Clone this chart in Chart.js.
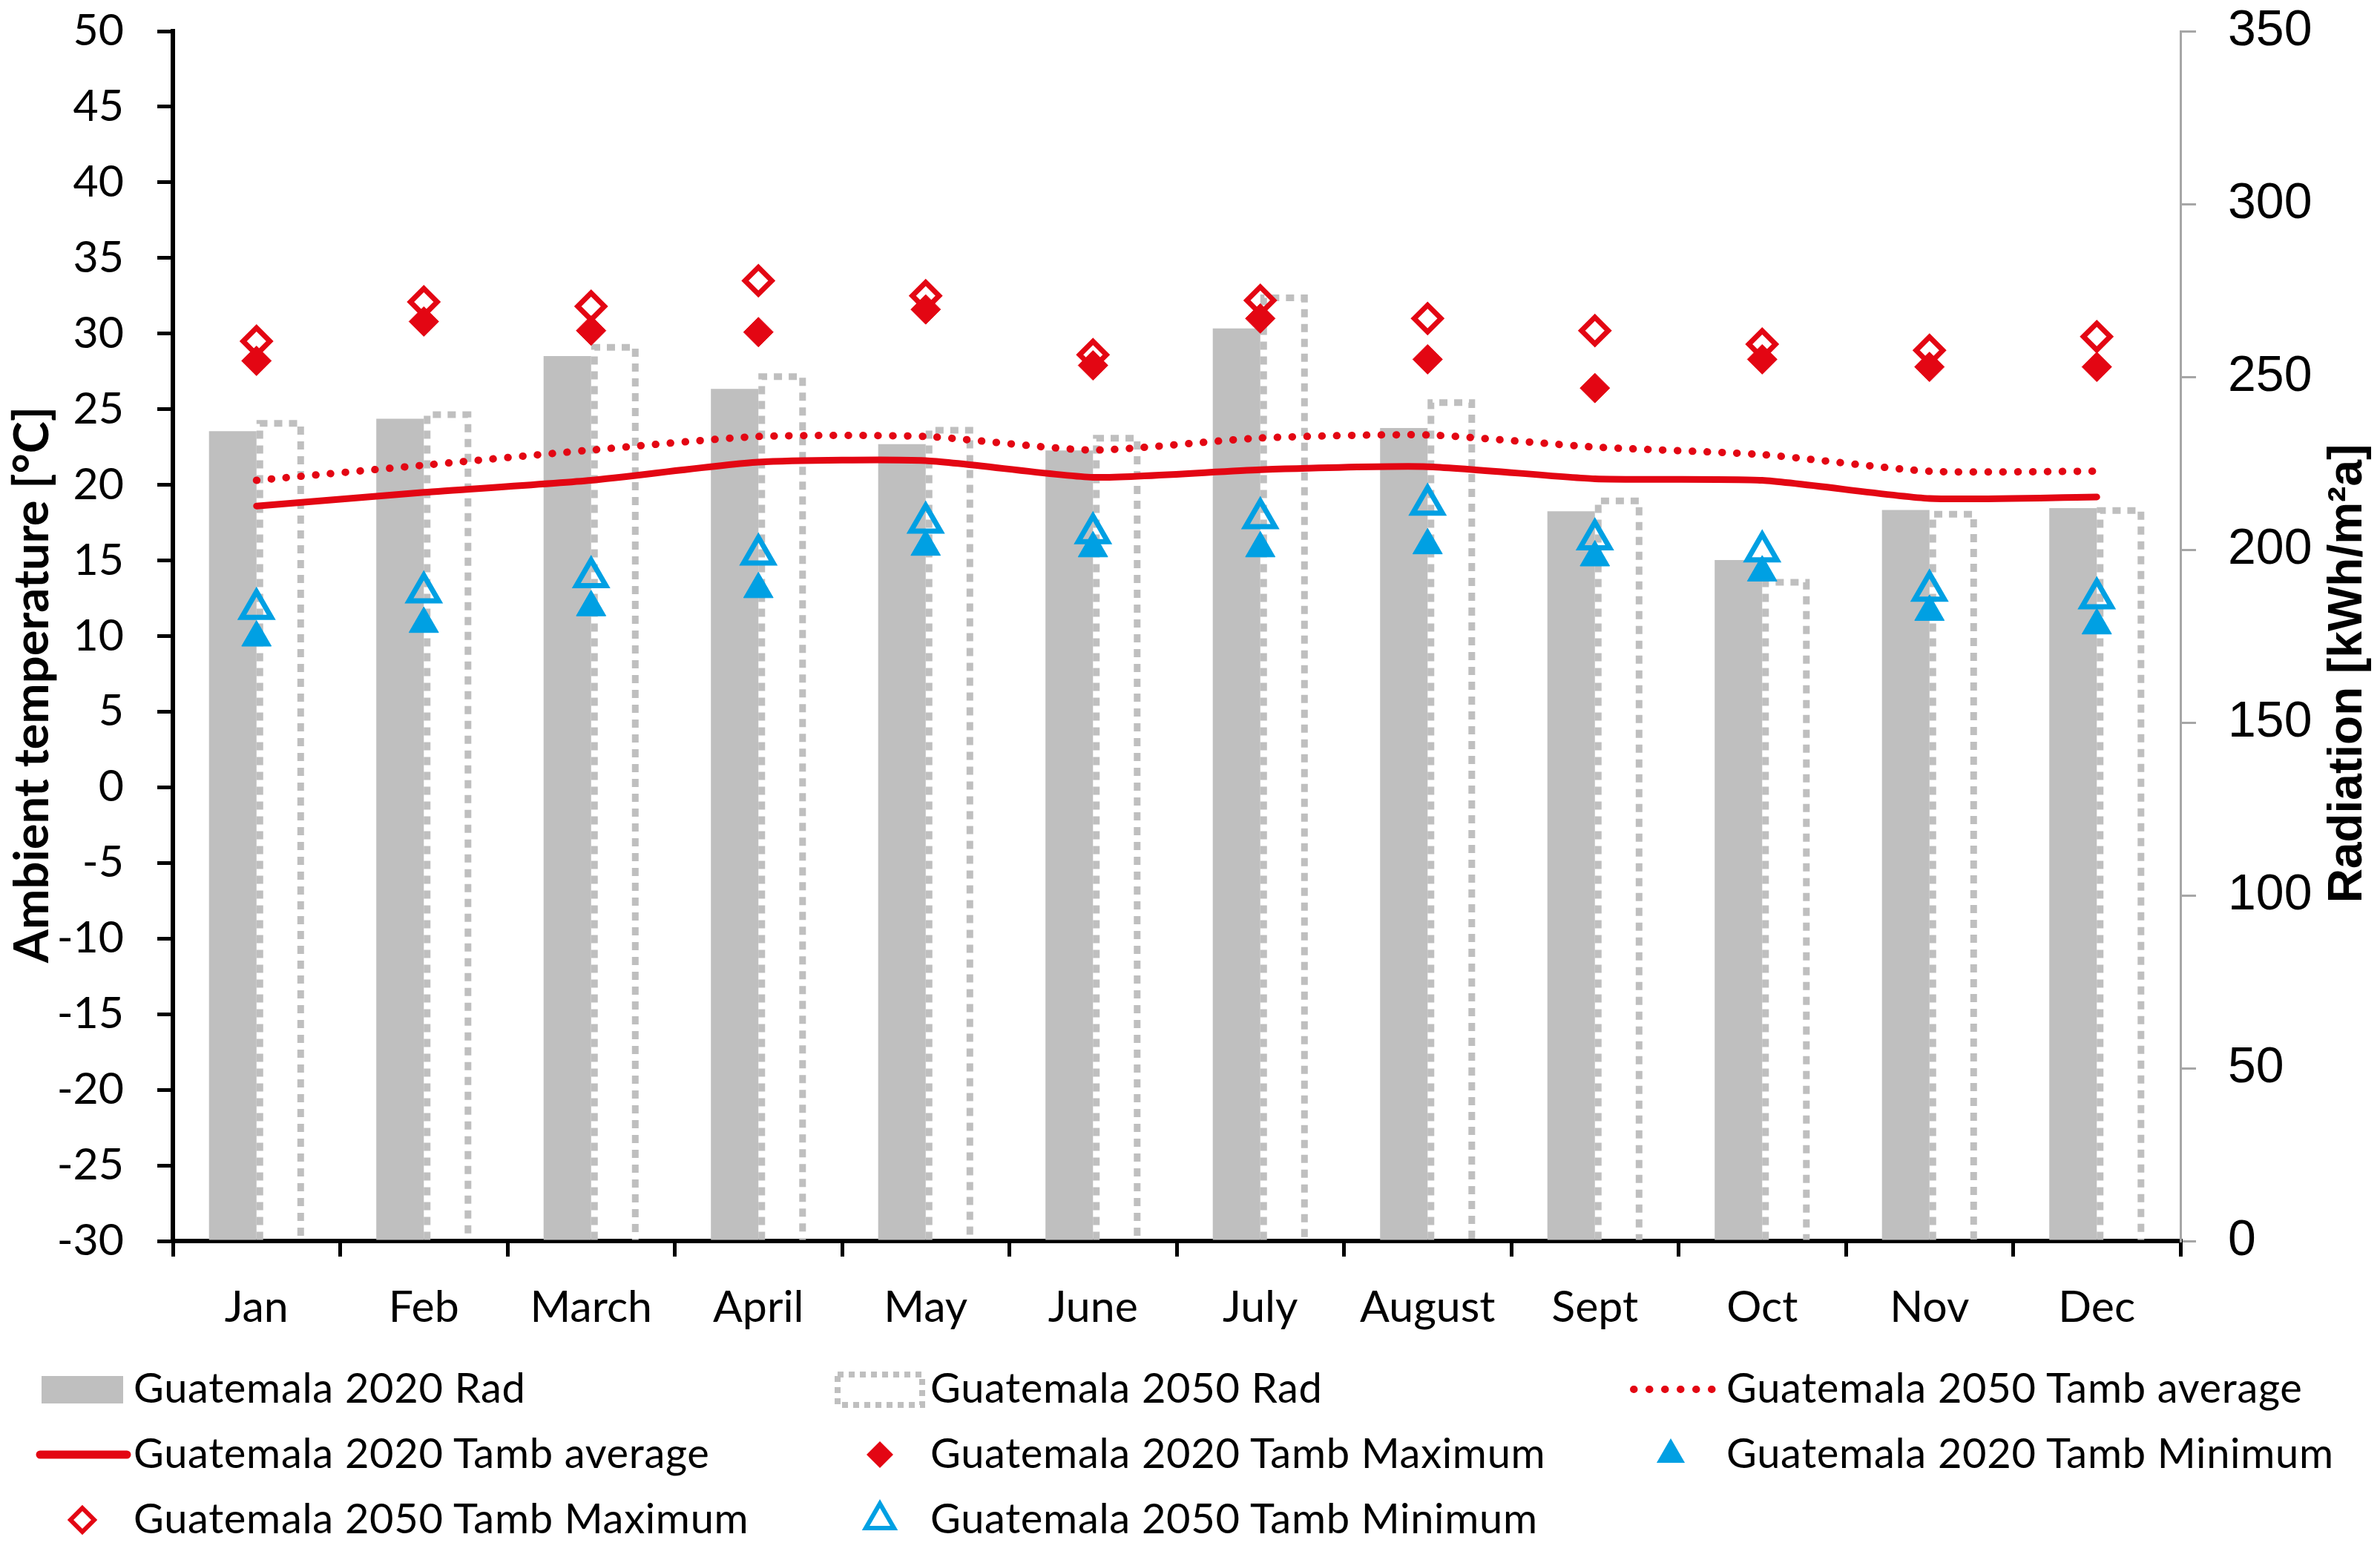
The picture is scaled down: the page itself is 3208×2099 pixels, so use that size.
<!DOCTYPE html>
<html>
<head>
<meta charset="utf-8">
<script src="https://cdn.jsdelivr.net/npm/chart.js@4.4.0/dist/chart.umd.min.js"></script>
<style>
  html, body { margin: 0; padding: 0; background: #fff; }
  #wrap { position: relative; width: 3208px; height: 2099px; overflow: hidden; }
  #chart { position: absolute; left: 0; top: 0; }
  #legendSvg { position: absolute; left: 0; top: 0; pointer-events: none; }
  .leg-text { position: absolute; height: 60px; line-height: 60px; font-family: Lato, sans-serif; font-size: 56px; letter-spacing: 0.7px; color: #000; white-space: nowrap; }
</style>
</head>
<body>
<div id="wrap">
  <canvas id="chart" width="3208" height="2099"></canvas>
  <svg id="legendSvg" width="3208" height="2099" xmlns="http://www.w3.org/2000/svg"></svg>
  <div id="legend"></div>
</div>
<script>
// data
const months = ['Jan', 'Feb', 'March', 'April', 'May', 'June', 'July', 'August', 'Sept', 'Oct', 'Nov', 'Dec'];

// radiation [kWh/m2a], right axis
const rad2020 = [234.3, 237.9, 256.0, 246.5, 230.5, 228.7, 264.0, 235.2, 211.1, 197.0, 211.5, 212.0];
const rad2050 = [237.5, 240.0, 259.5, 251.0, 235.5, 233.2, 273.8, 243.5, 215.1, 191.5, 211.2, 212.3];

// ambient temperature [°C], left axis
const avg2050 = [20.3, 21.3, 22.3, 23.2, 23.2, 22.3, 23.1, 23.3, 22.5, 22.0, 20.9, 20.9];
const avg2020 = [18.6, 19.5, 20.3, 21.5, 21.6, 20.5, 21.0, 21.2, 20.4, 20.3, 19.1, 19.2];
const max2020 = [28.2, 30.8, 30.2, 30.1, 31.6, 27.9, 31.0, 28.3, 26.4, 28.3, 27.8, 27.8];
const min2020 = [9.9, 10.8, 11.9, 13.1, 15.9, 15.8, 15.8, 16.0, 15.2, 14.2, 11.6, 10.7];
const max2050 = [29.5, 32.1, 31.8, 33.5, 32.5, 28.6, 32.2, 31.0, 30.2, 29.3, 28.9, 29.8];
const min2050 = [11.8, 12.9, 13.9, 15.4, 17.5, 16.8, 17.8, 18.7, 16.4, 15.6, 13.0, 12.5];

const tempTicks = { min: -30, max: 50, step: 5 };
const radTicks = { min: 0, max: 350, step: 50 };

const leftTitle = 'Ambient temperature [°C]';
const rightTitle = 'Radiation [kWh/m²a]';

const RED = 'rgb(227,6,19)';
const BLUE = 'rgb(0,160,227)';
const GREY = 'rgb(191,191,191)';
const AXIS_GREY = 'rgb(166,166,166)';

// the 2050 radiation bars are dashed outlines, drawn right after the solid 2020 bars
const dashedBars = {
    id: 'dashedBars',
    afterDatasetDraw(chart, args) {
        if (args.index !== 0) return;
        const c = chart.ctx;
        const lw = 9;
        c.save();
        c.strokeStyle = GREY;
        c.lineWidth = lw;
        c.setLineDash([11, 9]);
        chart.getDatasetMeta(1).data.forEach(bar => {
            const p = bar.getProps(['x', 'y', 'base', 'width'], true);
            const l = p.x - p.width / 2 + lw / 2;
            const r = p.x + p.width / 2 - lw / 2;
            const t = p.y + lw / 2;
            c.beginPath();
            c.moveTo(l, p.base);
            c.lineTo(l, t);
            c.lineTo(r, t);
            c.lineTo(r, p.base);
            c.stroke();
        });
        c.restore();
    }
};

// both axis titles read bottom to top
const axisTitles = {
    id: 'axisTitles',
    afterDraw(chart) {
        const c = chart.ctx;
        c.save();
        c.fillStyle = '#000';
        c.textAlign = 'center';
        c.textBaseline = 'alphabetic';
        c.translate(65, 923);
        c.rotate(-Math.PI / 2);
        c.font = 'bold 65px Lato';
        c.fillText(leftTitle, 0, 0);
        c.restore();

        c.save();
        c.fillStyle = '#000';
        c.textAlign = 'center';
        c.textBaseline = 'alphabetic';
        c.translate(3183, 908);
        c.rotate(-Math.PI / 2);
        c.font = 'bold 64px "Liberation Sans"';
        c.fillText(rightTitle, 0, 0);
        c.restore();
    }
};

function markerSet(label, data, style, radius, filled, color) {
    return {
        type: 'line',
        label: label,
        data: data,
        yAxisID: 'y',
        showLine: false,
        pointStyle: style,
        pointRadius: radius,
        pointHoverRadius: radius,
        pointBackgroundColor: filled ? color : 'rgba(0,0,0,0)',
        pointBorderColor: color,
        pointBorderWidth: filled ? 1 : 7,
        order: 1
    };
}

// fixed axis sizes so the plot area lands where it is in the picture
function fixVertical(width) {
    return function (s) {
        s.width = width;
        s.paddingTop = 0;
        s.paddingBottom = 0;
    };
}

function drawChart() {
    const ctx = document.getElementById('chart').getContext('2d');
    const chart = new Chart(ctx, {
        data: {
            labels: months,
            datasets: [
                { type: 'bar', label: 'Guatemala 2020 Rad', data: rad2020, yAxisID: 'y1',
                  backgroundColor: GREY, borderWidth: 0, order: 10 },
                { type: 'bar', label: 'Guatemala 2050 Rad', data: rad2050, yAxisID: 'y1',
                  backgroundColor: 'rgba(0,0,0,0)', borderWidth: 0, order: 11 },
                { type: 'line', label: 'Guatemala 2050 Tamb average', data: avg2050, yAxisID: 'y',
                  borderColor: RED, borderWidth: 10, borderDash: [0.5, 19.5], borderCapStyle: 'round',
                  pointRadius: 0, tension: 0.2, order: 5 },
                { type: 'line', label: 'Guatemala 2020 Tamb average', data: avg2020, yAxisID: 'y',
                  borderColor: RED, borderWidth: 9, borderCapStyle: 'round',
                  pointRadius: 0, tension: 0.2, order: 5 },
                markerSet('Guatemala 2020 Tamb Maximum', max2020, 'rectRot', 20, true, RED),
                markerSet('Guatemala 2020 Tamb Minimum', min2020, 'triangle', 23, true, BLUE),
                markerSet('Guatemala 2050 Tamb Maximum', max2050, 'rectRot', 18, false, RED),
                markerSet('Guatemala 2050 Tamb Minimum', min2050, 'triangle', 23, false, BLUE)
            ]
        },
        options: {
            responsive: false,
            animation: false,
            devicePixelRatio: 1,
            layout: { padding: { top: 42, left: 0, right: 0, bottom: 0 } },
            datasets: { bar: { barPercentage: 1, categoryPercentage: 0.568 } },
            plugins: { legend: { display: false }, tooltip: { enabled: false } },
            scales: {
                x: {
                    type: 'category',
                    offset: true,
                    grid: { offset: true, drawOnChartArea: false, tickLength: 21, color: '#000', lineWidth: 5 },
                    border: { color: '#000', width: 6 },
                    ticks: { color: '#000', font: { family: 'Lato', size: 59 }, padding: 34, maxRotation: 0, autoSkip: false },
                    afterFit(s) { s.height = 426; s.paddingLeft = 0; s.paddingRight = 0; }
                },
                y: {
                    position: 'left',
                    min: tempTicks.min,
                    max: tempTicks.max,
                    ticks: { stepSize: tempTicks.step, color: '#000', font: { family: 'Lato', size: 59 }, padding: 45 },
                    grid: { drawOnChartArea: false, tickLength: 21, color: '#000', lineWidth: 5 },
                    border: { color: '#000', width: 6 },
                    afterFit: fixVertical(233)
                },
                y1: {
                    position: 'right',
                    min: radTicks.min,
                    max: radTicks.max,
                    ticks: { stepSize: radTicks.step, color: '#000', font: { family: 'Liberation Sans', size: 68 }, padding: 43 },
                    grid: { drawOnChartArea: false, tickLength: 21, color: AXIS_GREY, lineWidth: 3 },
                    border: { color: AXIS_GREY, width: 3 },
                    afterFit: fixVertical(269)
                }
            }
        },
        plugins: [dashedBars, axisTitles]
    });
    buildLegend(chart);
}

// legend: 3 columns, filled row by row in dataset order
const legendSymbols = ['bar', 'dashbar', 'dots', 'line', 'diamond', 'tri', 'diamondOpen', 'triOpen'];
const legendCols = [{ sym: 111, text: 180 }, { sym: 1186, text: 1254 }, { sym: 2252, text: 2327 }];
const legendRows = [1873, 1961, 2049];

function svgEl(name, attrs) {
    const el = document.createElementNS('http://www.w3.org/2000/svg', name);
    Object.keys(attrs).forEach(k => el.setAttribute(k, attrs[k]));
    return el;
}

function drawSymbol(svg, kind, cx, cy) {
    const tri = (r) => `${cx},${cy - r} ${cx + r * 0.866},${cy + r / 2} ${cx - r * 0.866},${cy + r / 2}`;
    const dia = (r) => `${cx},${cy - r} ${cx + r},${cy} ${cx},${cy + r} ${cx - r},${cy}`;
    if (kind === 'bar') {
        svg.appendChild(svgEl('rect', { x: cx - 55, y: cy - 18, width: 110, height: 37, fill: GREY }));
    } else if (kind === 'dashbar') {
        svg.appendChild(svgEl('rect', { x: cx - 57, y: cy - 20, width: 114, height: 41, fill: 'none',
            stroke: GREY, 'stroke-width': 8, 'stroke-dasharray': '8 7' }));
    } else if (kind === 'dots') {
        svg.appendChild(svgEl('line', { x1: cx - 50, y1: cy, x2: cx + 56, y2: cy, stroke: RED,
            'stroke-width': 10, 'stroke-linecap': 'round', 'stroke-dasharray': '0.5 20.5' }));
    } else if (kind === 'line') {
        svg.appendChild(svgEl('line', { x1: cx - 57, y1: cy, x2: cx + 60, y2: cy, stroke: RED,
            'stroke-width': 11, 'stroke-linecap': 'round' }));
    } else if (kind === 'diamond') {
        svg.appendChild(svgEl('polygon', { points: dia(18), fill: RED }));
    } else if (kind === 'diamondOpen') {
        svg.appendChild(svgEl('polygon', { points: dia(16), fill: 'none', stroke: RED, 'stroke-width': 6 }));
    } else if (kind === 'tri') {
        svg.appendChild(svgEl('polygon', { points: tri(22), fill: BLUE }));
    } else if (kind === 'triOpen') {
        svg.appendChild(svgEl('polygon', { points: tri(22), fill: 'none', stroke: BLUE, 'stroke-width': 6 }));
    }
}

function buildLegend(chart) {
    const svg = document.getElementById('legendSvg');
    const box = document.getElementById('legend');
    chart.data.datasets.forEach((ds, i) => {
        const col = legendCols[i % 3];
        const rowY = legendRows[Math.floor(i / 3)];
        drawSymbol(svg, legendSymbols[i], col.sym, rowY);
        const t = document.createElement('div');
        t.className = 'leg-text';
        t.style.left = col.text + 'px';
        t.style.top = (rowY - 33) + 'px';
        t.textContent = ds.label;
        box.appendChild(t);
    });
}

Promise.all([
    document.fonts.load('59px Lato'),
    document.fonts.load('bold 65px Lato'),
    document.fonts.load('68px "Liberation Sans"'),
    document.fonts.load('bold 64px "Liberation Sans"')
]).then(drawChart, drawChart);
</script>
</body>
</html>
